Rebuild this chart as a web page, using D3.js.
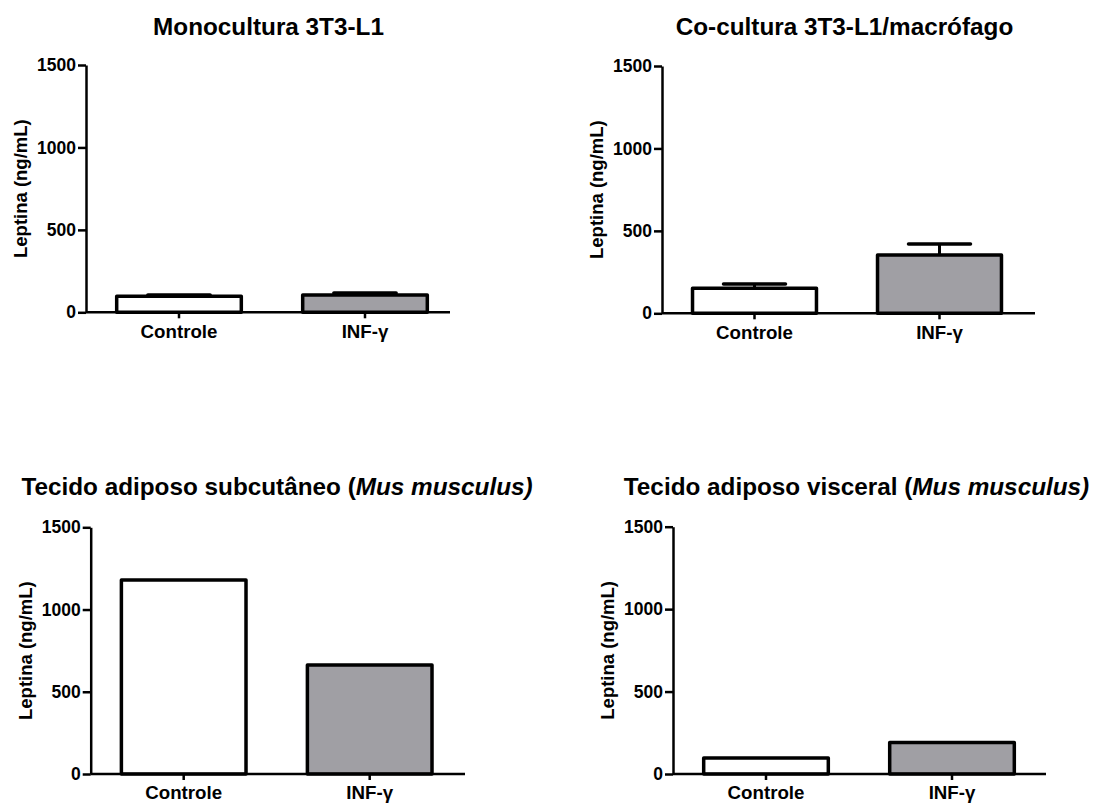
<!DOCTYPE html>
<html>
<head>
<meta charset="utf-8">
<script src="https://cdn.jsdelivr.net/npm/d3@7"></script>
<style>
  html, body { margin: 0; padding: 0; background: #fff; }
  svg { display: block; }
  text { font-family: Arial, "Liberation Sans", sans-serif; font-weight: bold; fill: #000; }
</style>
</head>
<body>
<svg id="chart" width="1094" height="804"></svg>
<script>
// ---- data ----
const categories = ["Controle", "INF-γ"];
const yTicks = [0, 500, 1000, 1500];
const yLabel = "Leptina (ng/mL)";

const monoValues = [98, 105];
const monoErrors = [7, 12];

const cocultValues = [152, 354];
const cocultErrors = [26, 66];

const subcutValues = [1180, 663];
const visceralValues = [97, 191];

const titleMono = [{t: "Monocultura 3T3-L1", i: false}];
const titleCocult = [{t: "Co-cultura 3T3-L1/macrófago", i: false}];
const titleSubcut = [{t: "Tecido adiposo subcutâneo (", i: false}, {t: "Mus musculus)", i: true}];
const titleVisceral = [{t: "Tecido adiposo visceral (", i: false}, {t: "Mus musculus)", i: true}];

const barFills = ["#ffffff", "#a09fa4"];

// ---- layout (positions only) ----
const panels = [
  {title: titleMono, values: monoValues, errors: monoErrors,
   axisX: 86, yTop: 65, yBottom: 312.3, xEnd: 450, step: 186, titleX: 268.5, titleY: 35},
  {title: titleCocult, values: cocultValues, errors: cocultErrors,
   axisX: 662, yTop: 66, yBottom: 313.3, xEnd: 1035, step: 185, titleX: 844.5, titleY: 35},
  {title: titleSubcut, values: subcutValues, errors: null,
   axisX: 90.7, yTop: 527.3, yBottom: 774, xEnd: 465, step: 186, titleX: 277, titleY: 495},
  {title: titleVisceral, values: visceralValues, errors: null,
   axisX: 673, yTop: 526.7, yBottom: 774, xEnd: 1046, step: 186, titleX: 856.5, titleY: 495}
];

const svg = d3.select("#chart");
const FONT = "Arial, 'Liberation Sans', sans-serif";

panels.forEach(p => {
  const g = svg.append("g");

  const y = d3.scaleLinear().domain([0, 1500]).range([p.yBottom, p.yTop]);
  const x = d3.scaleBand()
    .domain(categories)
    .range([p.axisX, p.axisX + 2 * p.step])
    .paddingInner(0.33)
    .paddingOuter(0.165);

  // bars
  g.selectAll("rect.bar")
    .data(categories)
    .join("rect")
    .attr("class", "bar")
    .attr("x", d => x(d))
    .attr("width", x.bandwidth())
    .attr("y", (d, i) => y(p.values[i]))
    .attr("height", (d, i) => y(0) - y(p.values[i]))
    .attr("fill", (d, i) => barFills[i])
    .attr("stroke", "#000")
    .attr("stroke-width", 3.5)
    .attr("stroke-linejoin", "round");

  // error bars
  if (p.errors) {
    const eg = g.selectAll("g.err")
      .data(categories)
      .join("g")
      .attr("class", "err");
    eg.append("line")
      .attr("x1", d => x(d) + x.bandwidth() / 2)
      .attr("x2", d => x(d) + x.bandwidth() / 2)
      .attr("y1", (d, i) => y(p.values[i]))
      .attr("y2", (d, i) => y(p.values[i] + p.errors[i]))
      .attr("stroke", "#000").attr("stroke-width", 3);
    eg.append("line")
      .attr("x1", d => x(d) + x.bandwidth() / 4)
      .attr("x2", d => x(d) + x.bandwidth() * 3 / 4)
      .attr("y1", (d, i) => y(p.values[i] + p.errors[i]))
      .attr("y2", (d, i) => y(p.values[i] + p.errors[i]))
      .attr("stroke", "#000").attr("stroke-width", 3.5)
      .attr("stroke-linecap", "round");
  }

  // y axis
  const yAxis = g.append("g")
    .attr("transform", `translate(${p.axisX},0)`)
    .call(d3.axisLeft(y).tickValues(yTicks).tickFormat(d3.format("d"))
      .tickSize(8).tickPadding(2).tickSizeOuter(0));
  yAxis.select(".domain").attr("stroke-width", 2.5);
  yAxis.selectAll(".tick line").attr("stroke-width", 2.5);
  yAxis.selectAll(".tick text")
    .style("font-size", "17.5px")
    .style("font-family", FONT)
    .style("font-weight", "bold");

  // x axis
  const xAxis = g.append("g")
    .attr("transform", `translate(0,${p.yBottom})`)
    .call(d3.axisBottom(x).tickSize(6).tickPadding(6).tickSizeOuter(0));
  xAxis.select(".domain")
    .attr("d", `M${p.axisX},0H${p.xEnd}`)
    .attr("stroke-width", 2.5);
  xAxis.selectAll(".tick line").attr("stroke-width", 2.5);
  xAxis.selectAll(".tick text")
    .style("font-size", "18.7px")
    .style("font-family", FONT)
    .style("font-weight", "bold");

  // y label
  g.append("text")
    .attr("transform", `translate(${p.axisX - 59},${(p.yTop + p.yBottom) / 2}) rotate(-90)`)
    .attr("text-anchor", "middle")
    .style("font-size", "18.5px")
    .text(yLabel);

  // title
  const t = g.append("text")
    .attr("x", p.titleX)
    .attr("y", p.titleY)
    .attr("text-anchor", "middle")
    .style("font-size", "24.3px");
  t.selectAll("tspan")
    .data(p.title)
    .join("tspan")
    .style("font-style", d => d.i ? "italic" : "normal")
    .text(d => d.t);
});
</script>
</body>
</html>
